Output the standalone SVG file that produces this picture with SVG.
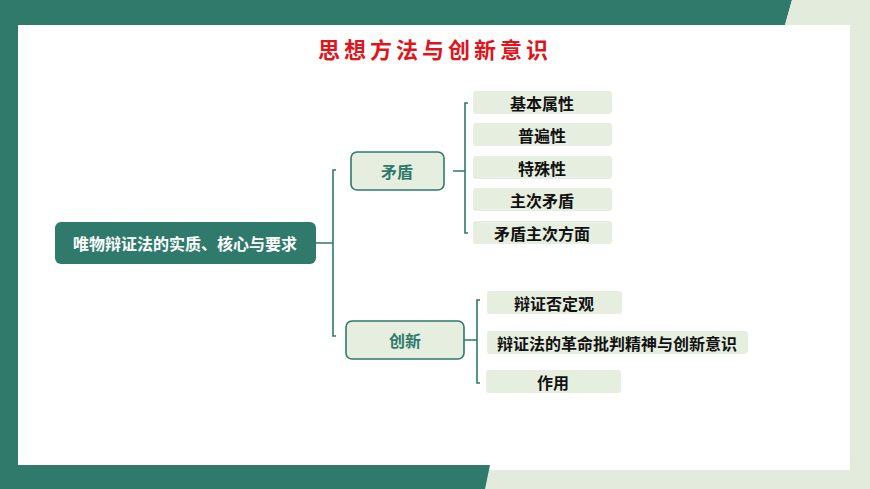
<svg xmlns="http://www.w3.org/2000/svg" width="870" height="489" viewBox="0 0 870 489">
<style>
.ln{fill:none;stroke:#2f7a6b;stroke-width:1.6}
.leaf{fill:#e5eedf}
.t{font-family:"Noto Sans CJK SC",sans-serif;font-weight:bold;font-size:16px;text-anchor:middle;dominant-baseline:central;fill:#111}
</style>
<rect width="870" height="489" fill="#fff"/>
<polygon points="0,0 792,0 785,25 0,25" fill="#2f7a6b"/>
<polygon points="792,0 870,0 870,489 0,489 0,470 850,470 850,25 785,25" fill="#e3ecdc"/>
<polygon points="0,0 18,0 18,465 490,465 485,489 0,489" fill="#2f7a6b"/>
<rect x="18" y="25" width="832" height="440" fill="#fff"/>
<text x="435" y="48" font-family="'Noto Sans CJK SC',sans-serif" font-weight="bold" font-size="22" fill="#e0141b" text-anchor="middle" dominant-baseline="central" letter-spacing="4">思想方法与创新意识</text>
<g id="connectors">
<path class="ln" d="M316,243H333M336,170H333V336H336"/>
<path class="ln" d="M453,171H465M468,103H465V233H468"/>
<path class="ln" d="M464,340H477M480,300H477V383H480"/>
</g>
<g id="root"><rect x="55" y="222" width="261" height="42" rx="6" fill="#2f7a6b"/><text class="t" x="185" y="243" style="fill:#fff">唯物辩证法的实质、核心与要求</text></g>
<g id="maodun"><rect x="351" y="152" width="93" height="38" rx="6" fill="#e5eedf" stroke="#2f7a6b" stroke-width="1.6"/><text class="t" x="397" y="171" style="fill:#2f7a6b">矛盾</text></g>
<g id="chuangxin"><rect x="346" y="321" width="118" height="38" rx="6" fill="#e5eedf" stroke="#2f7a6b" stroke-width="1.6"/><text class="t" x="405" y="340" style="fill:#2f7a6b">创新</text></g>
<g id="l1"><rect class="leaf" x="473" y="91" width="139" height="23" rx="3"/><text class="t" x="542" y="102.5">基本属性</text></g>
<g id="l2"><rect class="leaf" x="473" y="123" width="139" height="23" rx="3"/><text class="t" x="542" y="134.5">普遍性</text></g>
<g id="l3"><rect class="leaf" x="473" y="156" width="139" height="23" rx="3"/><text class="t" x="542" y="167.5">特殊性</text></g>
<g id="l4"><rect class="leaf" x="473" y="188" width="139" height="23" rx="3"/><text class="t" x="542" y="199.5">主次矛盾</text></g>
<g id="l5"><rect class="leaf" x="473" y="221" width="139" height="23" rx="3"/><text class="t" x="542" y="232.5">矛盾主次方面</text></g>
<g id="l6"><rect class="leaf" x="487" y="291" width="135" height="23" rx="3"/><text class="t" x="554" y="302.5">辩证否定观</text></g>
<g id="l7"><rect class="leaf" x="487" y="331" width="261" height="23" rx="3"/><text class="t" x="617" y="342.5">辩证法的革命批判精神与创新意识</text></g>
<g id="l8"><rect class="leaf" x="486" y="370" width="135" height="23" rx="3"/><text class="t" x="553" y="381.5">作用</text></g>
</svg>
